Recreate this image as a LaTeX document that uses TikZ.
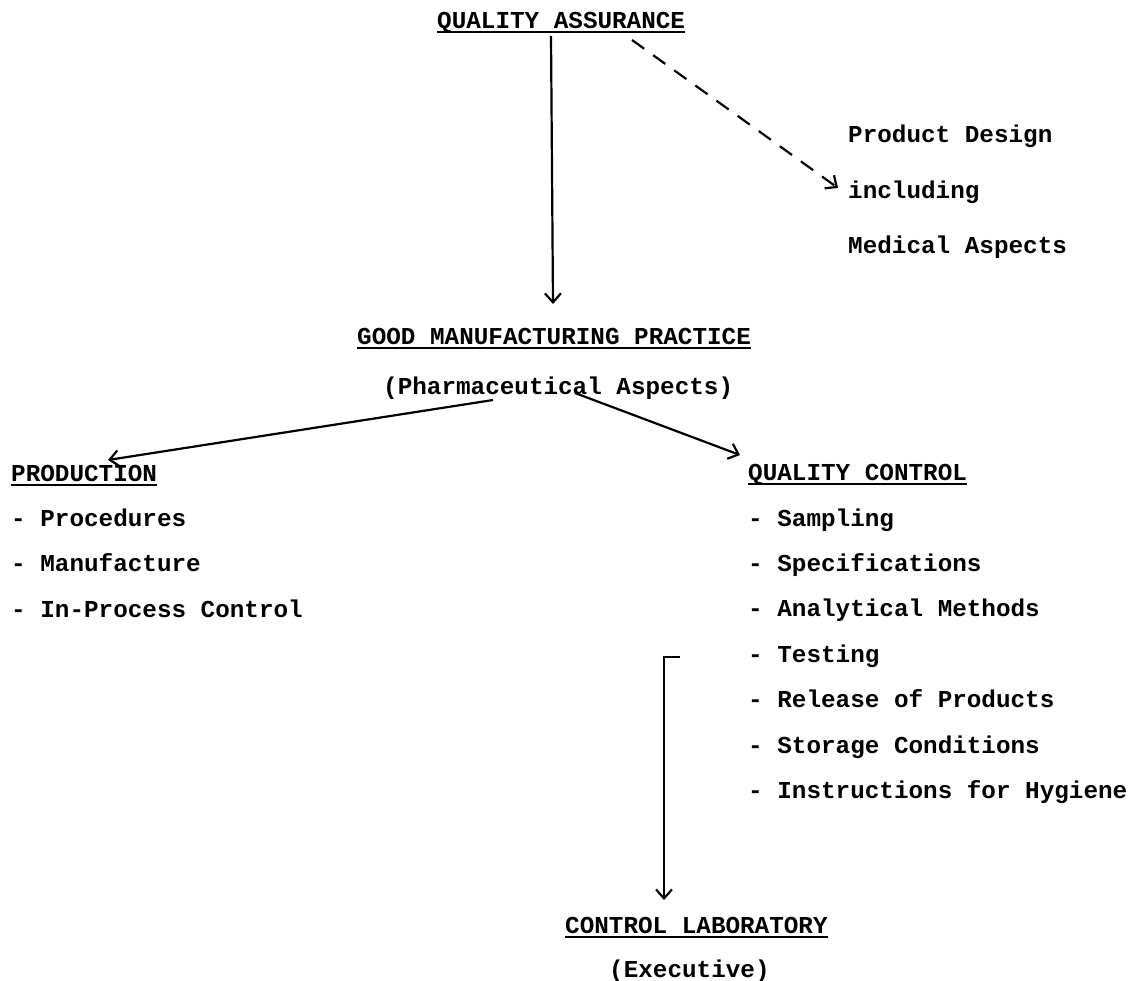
\documentclass[tikz,border=0pt]{standalone}
\usepackage{fontspec}
\setmonofont{Liberation Mono}
\usetikzlibrary{arrows.meta,calc}
\tikzset{
  txt/.style={anchor=base west, inner sep=0pt, font=\ttfamily\bfseries\fontsize{24.3}{29}\selectfont},
  uline/.style={line width=1.8pt},
  arr/.style={line width=2.2pt, -{Straight Barb[length=9pt,width=16pt,line width=2.2pt]}},
  dasharr/.style={arr, dash pattern=on 15pt off 11pt}
}
\begin{document}
\begin{tikzpicture}[x=1pt,y=-1pt]
\useasboundingbox (0,0) rectangle (1134,980);
% nodes
\node[txt] (qa) at (437,28) {QUALITY ASSURANCE};
\draw[uline] ([yshift=-4pt]qa.base west) -- ([yshift=-4pt]qa.base east);
\node[txt] (pd1) at (848,142) {Product Design};
\node[txt] (pd2) at (848,198) {including};
\node[txt] (pd3) at (848,253) {Medical Aspects};
\node[txt] (gmp) at (357,344) {GOOD MANUFACTURING PRACTICE};
\draw[uline] ([yshift=-4pt]gmp.base west) -- ([yshift=-4pt]gmp.base east);
\node[txt] (pharm) at (383,394) {(Pharmaceutical Aspects)};
\node[txt] (prod) at (11,481) {PRODUCTION};
\draw[uline] ([yshift=-4pt]prod.base west) -- ([yshift=-4pt]prod.base east);
\node[txt] (p1) at (11,526) {- Procedures};
\node[txt] (p2) at (11,571) {- Manufacture};
\node[txt] (p3) at (11,617) {- In-Process Control};
\node[txt] (qc) at (748,480) {QUALITY CONTROL};
\draw[uline] ([yshift=-4pt]qc.base west) -- ([yshift=-4pt]qc.base east);
\node[txt] (q1) at (748,526) {- Sampling};
\node[txt] (q2) at (748,571) {- Specifications};
\node[txt] (q3) at (748,616) {- Analytical Methods};
\node[txt] (q4) at (748,662) {- Testing};
\node[txt] (q5) at (748,707) {- Release of Products};
\node[txt] (q6) at (748,753) {- Storage Conditions};
\node[txt] (q7) at (748,798) {- Instructions for Hygiene};
\node[txt] (ctl) at (565,933) {CONTROL LABORATORY};
\draw[uline] ([yshift=-4pt]ctl.base west) -- ([yshift=-4pt]ctl.base east);
\node[txt] (exe) at (609,977) {(Executive)};
% connectors
\draw[arr] ($(qa.base west)+(114,8)$) -- ($(gmp.base west)+(196,-40)$);
\draw[dasharr] ($(qa.base west)+(195,12)$) -- ($(pd2.base west)+(-10,-10)$);
\draw[arr] ($(pharm.base west)+(110,6)$) -- ($(prod.base west)+(97,-21)$);
\draw[arr] ($(pharm.base west)+(192,-1)$) -- ($(qc.base west)+(-8,-25)$);
\draw[arr] ($(q4.base west)+(-68,-5)$) -| ($(ctl.base west)+(99,-33)$);
\end{tikzpicture}
\end{document}
